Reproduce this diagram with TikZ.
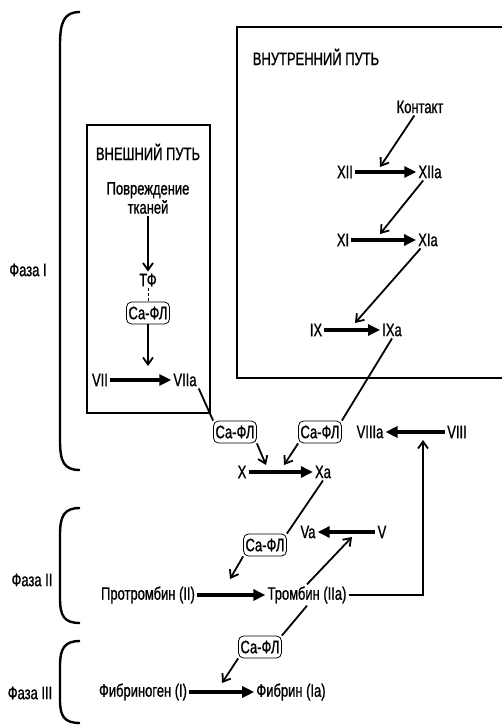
\documentclass[tikz,border=0pt]{standalone}
\usepackage{fontspec}
\setmainfont{Liberation Sans}[FakeStretch=0.72, FakeBold=1]
\usetikzlibrary{arrows.meta, calc}

\begin{document}
\begin{tikzpicture}[x=1pt, y=-1pt,
  font=\fontsize{18}{19}\selectfont,
  fac/.style={inner sep=2pt},
  cafl/.style={draw, rounded corners=5pt, line width=0.8pt, inner sep=2pt, minimum height=22pt},
  reac/.style={line width=3.2pt, -{Triangle[length=12pt,width=11pt]}},
  act/.style={line width=1.8pt, -{Straight Barb[length=7pt,width=10pt]}},
  link/.style={line width=1.8pt},
  pathbox/.style={line width=1.5pt},
  phase/.style={line width=2.4pt}
]
\useasboundingbox (0,0) rectangle (501,725);

% phases
\draw[phase] (80,12) .. controls (64,12) and (60,22) .. (60,45) -- (60,440)
  .. controls (60,462) and (64,470) .. (80,470);
\draw[phase] (80,508) .. controls (64,508) and (60,516) .. (60,535) -- (60,598)
  .. controls (60,616) and (64,623) .. (80,623);
\draw[phase] (80,641) .. controls (64,641) and (60,649) .. (60,666) -- (60,700)
  .. controls (60,716) and (64,723) .. (80,723);
\node[fac] (ph1) at (28,270) {Фаза I};
\node[fac] (ph2) at (32,580) {Фаза II};
\node[fac] (ph3) at (30,693) {Фаза III};

% extrinsic pathway
\draw[pathbox] (87,125) rectangle (210,413);
\node[fac] (ext) at (148,152) {ВНЕШНИЙ ПУТЬ};
\node[fac, align=center] (dmg) at (148,198) {Повреждение\\тканей};
\node[fac] (tf) at (148,280) {ТФ};
\node[cafl] (cf1) at (148,313) {Са-ФЛ};
\node[fac] (vii) at (100,380) {VII};
\node[fac] (viia) at (185,380) {VIIa};
\coordinate (k7) at (148,366);

\draw[act] (dmg) -- (tf);
\draw[densely dashed, line width=1pt] (tf) -- (cf1);
\draw[act] (cf1) -- (k7);
\draw[reac] (vii) -- (viia);

% intrinsic pathway
\draw[pathbox] (503,27) -- (237,27) -- (237,378) -- (503,378);
\node[fac] (int) at (316,57) {ВНУТРЕННИЙ ПУТЬ};
\node[fac] (cnt) at (420,107) {Контакт};
\node[fac] (xii) at (345,172) {XII};
\node[fac] (xiia) at (430,172) {XIIa};
\node[fac] (xi) at (343,240) {XI};
\node[fac] (xia) at (428,240) {XIa};
\node[fac] (ix) at (316,330) {IX};
\node[fac] (ixa) at (392,330) {IXa};
\coordinate (k12) at (380,167);
\coordinate (k11) at (380,234);
\coordinate (k9) at (355,323);

\draw[act] (cnt) -- (k12);
\draw[reac] (xii) -- (xiia);
\draw[act] (xiia) -- (k11);
\draw[reac] (xi) -- (xia);
\draw[act] (xia) -- (k9);
\draw[reac] (ix) -- (ixa);

% common pathway
\node[cafl] (cf2) at (235,432) {Са-ФЛ};
\node[cafl] (cf3) at (320,432) {Са-ФЛ};
\node[fac] (viiia) at (370,432) {VIIIa};
\node[fac] (viii) at (457,432) {VIII};
\node[fac] (x) at (242,472) {X};
\node[fac] (xa) at (323,472) {Xa};
\coordinate (kx1) at (266,465);
\coordinate (kx2) at (284,465);
\coordinate (k8) at (423,440);

\draw[link] (viia.south east) -- (cf2.north west);
\draw[link] (ixa.south) -- (cf3.north east);
\draw[act] (cf2.south east) -- (kx1);
\draw[act] (cf3.south west) -- (kx2);
\draw[reac] (x) -- (xa);
\draw[reac] (viii) -- (viiia);

\node[cafl] (cf4) at (265,545) {Са-ФЛ};
\node[fac] (va) at (308,532) {Va};
\node[fac] (v) at (382,532) {V};
\node[fac] (prot) at (148,595) {Протромбин (II)};
\node[fac] (thr) at (307,595) {Тромбин (IIa)};
\coordinate (k2) at (230,579);
\coordinate (k5) at (352,537);

\draw[link] (xa.south) -- (cf4.north east);
\draw[act] (cf4.south west) -- (k2);
\draw[reac] (v) -- (va);
\draw[act] (thr.north) -- (k5);
\draw[reac] (prot) -- (thr);
\draw[act] (thr.east) -| (k8);

\node[cafl] (cf5) at (260,647) {Са-ФЛ};
\node[fac] (fbg) at (143,692) {Фибриноген (I)};
\node[fac] (fbn) at (291,692) {Фибрин (Ia)};
\coordinate (k1) at (222,683);

\draw[link] (thr.south) -- (cf5.north east);
\draw[act] (cf5.south west) -- (k1);
\draw[reac] (fbg) -- (fbn);
\end{tikzpicture}
\end{document}
